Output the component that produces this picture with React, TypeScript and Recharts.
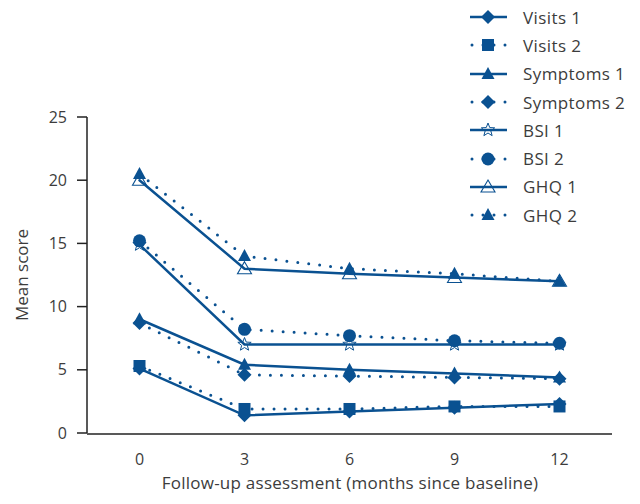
import React from 'react';
import { Label, Line, LineChart, XAxis, YAxis } from 'recharts';

const months = [0, 3, 6, 9, 12];
const visits1 = [5.1, 1.4, 1.7, 2.0, 2.3];
const visits2 = [5.3, 1.9, 1.9, 2.1, 2.1];
const symptoms1 = [9.0, 5.4, 5.0, 4.7, 4.4];
const symptoms2 = [8.7, 4.6, 4.5, 4.4, 4.3];
const bsi1 = [14.9, 7.0, 7.0, 7.0, 7.0];
const bsi2 = [15.2, 8.2, 7.7, 7.3, 7.1];
const ghq1 = [20.0, 13.0, 12.6, 12.3, 12.0];
const ghq2 = [20.5, 14.0, 13.0, 12.6, 12.0];

const yTicks = [0, 5, 10, 15, 20, 25];
const edgeTicks = [-1.5, 1.5, 4.5, 7.5, 10.5, 13.5];

const BLUE = '#0a5191';
const TEXT = '#3c3c3c';
const FONT = '"Open Sans", "Liberation Sans", sans-serif';

type MarkerKind = 'diamond' | 'square' | 'triangle' | 'openTriangle' | 'star' | 'circle';

const series: { key: string; name: string; values: number[]; marker: MarkerKind; dotted: boolean }[] = [
  { key: 'visits1', name: 'Visits 1', values: visits1, marker: 'diamond', dotted: false },
  { key: 'visits2', name: 'Visits 2', values: visits2, marker: 'square', dotted: true },
  { key: 'symptoms1', name: 'Symptoms 1', values: symptoms1, marker: 'triangle', dotted: false },
  { key: 'symptoms2', name: 'Symptoms 2', values: symptoms2, marker: 'diamond', dotted: true },
  { key: 'bsi1', name: 'BSI 1', values: bsi1, marker: 'star', dotted: false },
  { key: 'bsi2', name: 'BSI 2', values: bsi2, marker: 'circle', dotted: true },
  { key: 'ghq1', name: 'GHQ 1', values: ghq1, marker: 'openTriangle', dotted: false },
  { key: 'ghq2', name: 'GHQ 2', values: ghq2, marker: 'triangle', dotted: true },
];

const chartData = months.map((m, i) => {
  const row: Record<string, number> = { month: m };
  series.forEach((s) => {
    row[s.key] = s.values[i];
  });
  return row;
});

function Marker({ kind, cx, cy }: { kind: MarkerKind; cx: number; cy: number }) {
  if (kind === 'diamond') {
    return <polygon points={`${cx},${cy - 7} ${cx + 7},${cy} ${cx},${cy + 7} ${cx - 7},${cy}`} fill={BLUE} />;
  }
  if (kind === 'square') {
    return <rect x={cx - 6} y={cy - 6} width={12} height={12} fill={BLUE} />;
  }
  if (kind === 'triangle') {
    return <polygon points={`${cx},${cy - 7} ${cx + 6.5},${cy + 5} ${cx - 6.5},${cy + 5}`} fill={BLUE} />;
  }
  if (kind === 'openTriangle') {
    return (
      <polygon
        points={`${cx},${cy - 7} ${cx + 7},${cy + 5} ${cx - 7},${cy + 5}`}
        fill='none'
        stroke={BLUE}
        strokeWidth={1.1}
      />
    );
  }
  if (kind === 'circle') {
    return <circle cx={cx} cy={cy} r={6.5} fill={BLUE} />;
  }
  // open five-point star
  const pts: string[] = [];
  for (let k = 0; k < 10; k++) {
    const r = k % 2 === 0 ? 7 : 3;
    const a = -Math.PI / 2 + (k * Math.PI) / 5;
    pts.push(`${cx + r * Math.cos(a)},${cy + r * Math.sin(a)}`);
  }
  return <polygon points={pts.join(' ')} fill='none' stroke={BLUE} strokeWidth={1} />;
}

function LegendBox() {
  return (
    <div style={{ position: 'absolute', left: 466, top: 3 }}>
      {series.map((s) => (
        <div key={s.key} style={{ display: 'flex', alignItems: 'center', height: 28.3 }}>
          <svg width={46} height={20} style={{ overflow: 'visible' }}>
            {s.dotted ? (
              <line x1={6} y1={10} x2={40} y2={10} stroke={BLUE} strokeWidth={3} strokeDasharray='0 11' strokeLinecap='round' />
            ) : (
              <line x1={4} y1={10} x2={41} y2={10} stroke={BLUE} strokeWidth={2.5} />
            )}
            <Marker kind={s.marker} cx={22} cy={10} />
          </svg>
          <span style={{ marginLeft: 11, fontFamily: FONT, fontSize: 17, letterSpacing: 0.4, color: TEXT }}>{s.name}</span>
        </div>
      ))}
    </div>
  );
}

export default function App() {
  return (
    <div style={{ position: 'absolute', left: 0, top: 0, width: 640, height: 504, background: '#fff' }}>
      <LineChart width={640} height={504} data={chartData} margin={{ top: 117, right: 28, bottom: 69, left: 0 }}>
        <XAxis
          xAxisId='edges'
          type='number'
          dataKey='month'
          domain={[-1.5, 13.5]}
          ticks={edgeTicks}
          tick={false}
          tickSize={10}
          axisLine={false}
          tickLine={{ stroke: '#222', strokeWidth: 1.5 }}
          height={1}
        />
        <XAxis
          xAxisId='main'
          type='number'
          dataKey='month'
          domain={[-1.5, 13.5]}
          ticks={months}
          tickLine={false}
          tickSize={10}
          tickMargin={10}
          axisLine={{ stroke: '#222', strokeWidth: 1.5 }}
          tick={{ fill: TEXT, fontSize: 16, fontFamily: FONT }}
          height={1}
        >
          <Label
            content={() => (
              <text x={350} y={489} textAnchor='middle' fill={TEXT} fontSize={17} letterSpacing={0.25} fontFamily={FONT}>
                Follow-up assessment (months since baseline)
              </text>
            )}
          />
        </XAxis>
        <YAxis
          domain={[0, 25]}
          ticks={yTicks}
          width={87}
          tickSize={10}
          tickMargin={10}
          axisLine={{ stroke: '#222', strokeWidth: 1.5 }}
          tickLine={{ stroke: '#222', strokeWidth: 1.5 }}
          tick={{ fill: TEXT, fontSize: 16, fontFamily: FONT }}
        >
          <Label
            content={() => (
              <text x={28} y={275} textAnchor='middle' fill={TEXT} fontSize={17} fontFamily={FONT} transform='rotate(-90 28 275)'>
                Mean score
              </text>
            )}
          />
        </YAxis>
        {series.map((s) => (
          <Line
            key={s.key}
            xAxisId='main'
            dataKey={s.key}
            name={s.name}
            type='linear'
            stroke={BLUE}
            strokeWidth={s.dotted ? 3 : 2.5}
            strokeDasharray={s.dotted ? '0 11' : undefined}
            strokeLinecap='round'
            isAnimationActive={false}
            dot={(p: any) => <Marker key={`${s.key}-${p.index}`} kind={s.marker} cx={p.cx} cy={p.cy} />}
            activeDot={false}
          />
        ))}
      </LineChart>
      <LegendBox />
    </div>
  );
}
